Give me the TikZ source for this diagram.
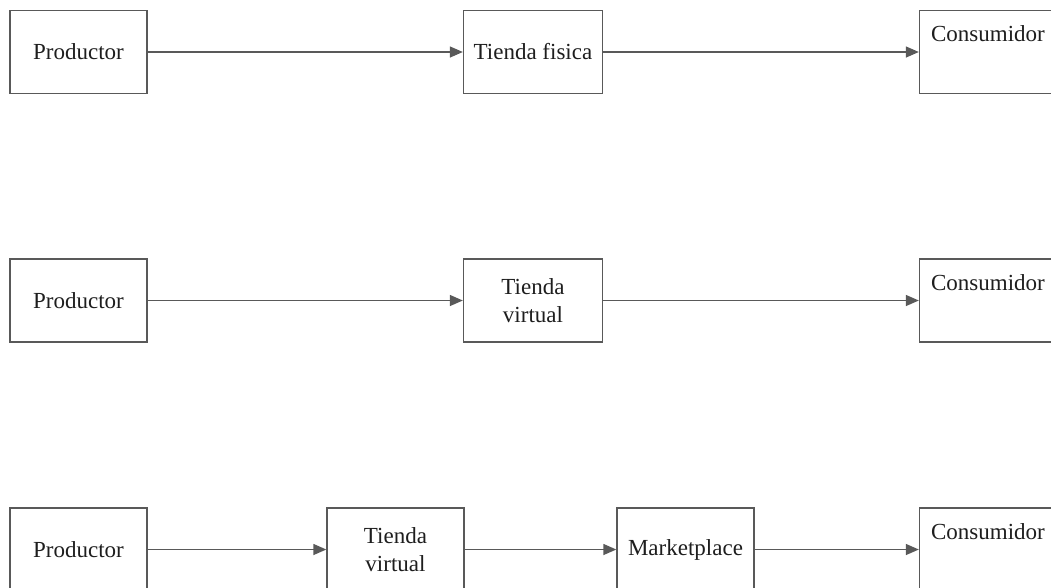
\documentclass[tikz,border=0pt]{standalone}
\usepackage{fontspec}
\setmainfont{Liberation Serif}
\usetikzlibrary{arrows.meta}
\definecolor{linegray}{HTML}{595959}
\definecolor{inkdark}{HTML}{1E1E1E}
\begin{document}
\begin{tikzpicture}[x=0.75pt,y=-0.75pt,
  box/.style={draw=linegray, line width=1pt, fill=white, inner sep=0pt,
    minimum height=62.25pt, minimum width=102.75pt, align=center,
    text=inkdark, font=\fontsize{17.25}{21}\selectfont},
  wide/.style={minimum width=104.25pt},
  conn/.style={draw=linegray, line width=1pt,
    -{Triangle[length=9.75pt, width=8.25pt]}}]
\useasboundingbox (0,0) rectangle (1051,587);
\clip (0,0) rectangle (1051,587);

% Canal tradicional
\node[box] (p1) at (78.5,52) {Productor};
\node[box, wide] (t1) at (533,52) {Tienda fisica};
\node[box] (c1) at (988,52) {Consumidor\\\strut};
\draw[conn] (p1) -- (t1);
\draw[conn] (t1) -- (c1);

% Canal de tienda virtual
\node[box] (p2) at (78.5,300.5) {Productor};
\node[box, wide] (t2) at (533,300.5) {Tienda\\virtual};
\node[box] (c2) at (988,300.5) {Consumidor\\\strut};
\draw[conn] (p2) -- (t2);
\draw[conn] (t2) -- (c2);

% Canal con marketplace
\node[box] (p3) at (78.5,549.5) {Productor};
\node[box] (t3) at (395.5,549.5) {Tienda\\virtual};
\node[box] (m3) at (685.5,549.5) {Marketplace};
\node[box] (c3) at (988,549.5) {Consumidor\\\strut};
\draw[conn] (p3) -- (t3);
\draw[conn] (t3) -- (m3);
\draw[conn] (m3) -- (c3);
\end{tikzpicture}
\end{document}
